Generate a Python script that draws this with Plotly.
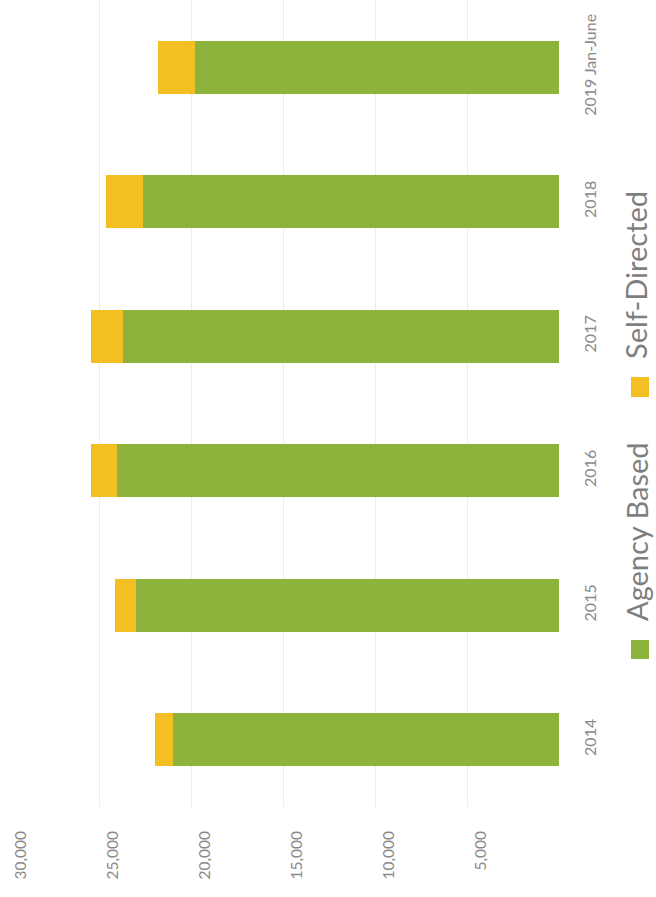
import plotly.graph_objects as go

categories = ["2014", "2015", "2016", "2017", "2018", "2019 Jan-June"]
agency_based = [20960, 22990, 24040, 23710, 22590, 19780]
self_directed = [1000, 1140, 1410, 1740, 2030, 2000]
value_ticks = [5000, 10000, 15000, 20000, 25000, 30000]
value_tick_labels = ["5,000", "10,000", "15,000", "20,000", "25,000", "30,000"]
series_names = ["Agency Based", "Self-Directed"]

GREEN = "#8DB33C"
YELLOW = "#F4BF22"
GREY = "#8a8a8a"
FONT = "Lato"

fig = go.Figure()
fig.add_bar(y=categories, x=agency_based, orientation="h", name=series_names[0],
            marker=dict(color=GREEN, line=dict(width=0)), width=0.395)
fig.add_bar(y=categories, x=self_directed, orientation="h", name=series_names[1],
            marker=dict(color=YELLOW, line=dict(width=0)), width=0.395)

fig.update_layout(
    width=656, height=897,
    barmode="stack",
    showlegend=False,
    plot_bgcolor="white", paper_bgcolor="white",
    margin=dict(l=7, r=97, t=0, b=90),
    font=dict(family=FONT, color=GREY),
    xaxis=dict(
        range=[30000, 0],
        tickvals=value_ticks, ticktext=value_tick_labels,
        tickangle=-90,
        tickfont=dict(size=15.5, color=GREY, family=FONT),
        showgrid=True, gridcolor="#ececec", gridwidth=1,
        zeroline=False, showline=False, ticks="",
        ticklabelstandoff=20,
        ticklabelshift=-14,
    ),
    yaxis=dict(
        type="category",
        categoryorder="array", categoryarray=categories,
        range=[-0.5, 5.5],
        side="right",
        tickangle=-90,
        tickfont=dict(size=16, color=GREY, family=FONT),
        showgrid=False, zeroline=False, showline=False, ticks="",
        ticklabelstandoff=20,
    ),
)

def px_to_paper_x(px):
    return (px - 7) / 552.0

def px_to_paper_y(py):
    return 1 - py / 807.0

legend_items = [
    (series_names[0], GREEN, 532, 640, 659),
    (series_names[1], YELLOW, 275, 377, 397),
]
for name, color, ycenter, sy0, sy1 in legend_items:
    fig.add_annotation(
        text=name, textangle=-90,
        xref="paper", yref="paper",
        x=px_to_paper_x(636), y=px_to_paper_y(ycenter),
        xanchor="center", yanchor="middle",
        showarrow=False,
        font=dict(size=29, color="#7f7f7f", family=FONT),
    )
    fig.add_shape(
        type="rect", xref="paper", yref="paper",
        x0=px_to_paper_x(631), x1=px_to_paper_x(649),
        y0=px_to_paper_y(sy1), y1=px_to_paper_y(sy0),
        fillcolor=color, line=dict(width=0),
    )

fig.write_html("out.html")
